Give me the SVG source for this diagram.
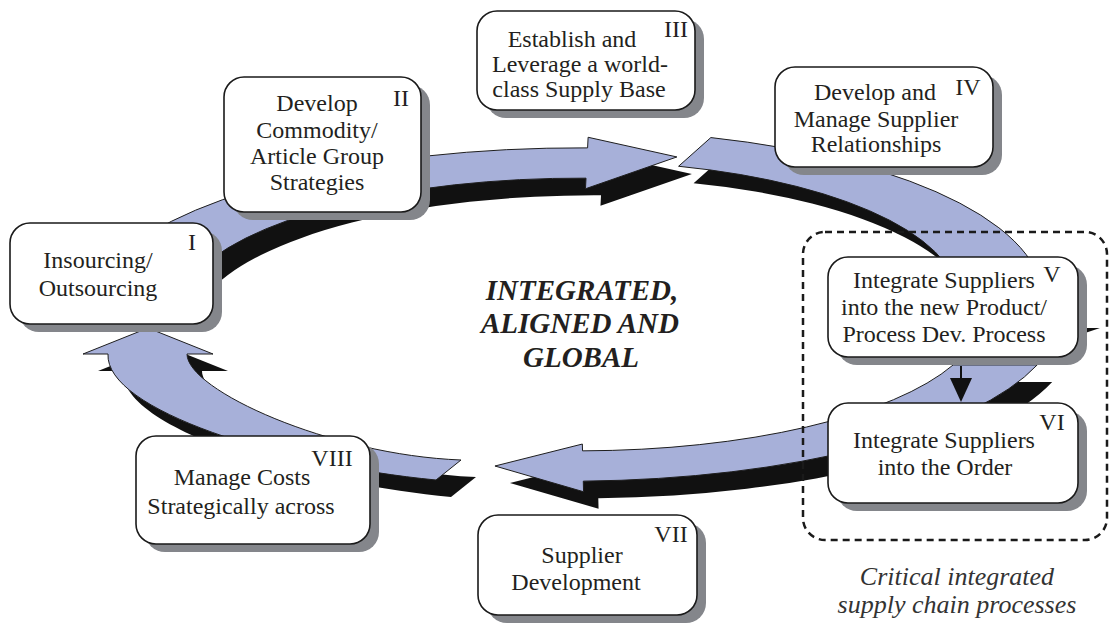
<svg xmlns="http://www.w3.org/2000/svg" width="1112" height="626" viewBox="0 0 1112 626">
  <defs>
    <style>
      .ring{vector-effect:non-scaling-stroke;stroke-linejoin:miter}
      .band{fill:#a7b0d9;stroke:#1e1e1e;stroke-width:1}
      .shade{fill:#111111;stroke:none}
      .box{fill:#ffffff;stroke:#1a1a1a;stroke-width:1.6}
      .boxshadow{fill:#84868b}
      .lbl{font-family:"Liberation Serif","Times New Roman",serif;font-size:24px;fill:#231f20;text-anchor:middle}
      .num{font-family:"Liberation Serif","Times New Roman",serif;font-size:24px;fill:#231f20;text-anchor:middle}
      .center{font-family:"Liberation Serif","Times New Roman",serif;font-size:29px;font-weight:bold;font-style:italic;fill:#231f20;text-anchor:middle}
      .note{font-family:"Liberation Serif","Times New Roman",serif;font-size:26px;font-style:italic;fill:#333333;text-anchor:middle}
    </style>
    <!-- curved arrows drawn on a unit ring of radius 100, stretched into an ellipse by the use transform -->
    <path id="arcA" class="ring" d="M -106.25,-28.47 A 110 110 0 0 1 1.92,-109.98 L 2.04,-116.98 L 21.9,-104 L 1.45,-82.99 L 1.57,-89.99 A 90 90 0 0 0 -86.93,-23.29 Z"/>
    <path id="arcB" class="ring" d="M 31.24,-105.47 A 110 110 0 0 1 109.77,7.1 L 119.9,7.1 L 98.3,27.05 L 80,7.1 L 89.72,7.1 A 90 90 0 0 0 23.6,-86.85 Z"/>
    <path id="arcC" class="ring" d="M 102.5,33.3 A 110 110 0 0 1 0.96,110 L 1.02,117 L -18.8,100 L 0.75,85.5 L 0.79,90 A 90 90 0 0 0 83.7,33.3 Z"/>
    <!-- left arrow, drawn in page coordinates -->
    <path id="arcD" class="ring" d="M 461,460 L 436,480 C 280,465 105,410 108,354 L 83,354 L 148,328 L 213,354 L 187,354 C 187,390 330,455 461,460 Z"/>
  </defs>

  <rect width="1112" height="626" fill="#ffffff"/>

  <!-- cycle arrows: drop shadows first, then the blue bands -->
  <g id="connectors">
    <g id="arrow-shadows">
      <use href="#arcA" class="shade" transform="translate(594,331.5) scale(4.47,1.515)"/>
      <use href="#arcB" class="shade" transform="translate(594,317) scale(4.22,1.54)"/>
      <use href="#arcC" class="shade" transform="translate(594,331.5) scale(4.47,1.515)"/>
      <use href="#arcD" class="shade" transform="translate(15,17)"/>
    </g>
    <g id="arrow-bands">
      <use href="#arcA" class="band" transform="translate(579,314.5) scale(4.47,1.515)"/>
      <use href="#arcB" class="band" transform="translate(579,300) scale(4.22,1.54)"/>
      <use href="#arcC" class="band" transform="translate(579,314.5) scale(4.47,1.515)"/>
      <use href="#arcD" class="band"/>
    </g>
    <!-- link from V to VI -->
    <g id="link-V-VI">
      <line x1="961" y1="366" x2="961" y2="382" stroke="#111" stroke-width="2"/>
      <polygon points="950,378 972,378 961,402" fill="#111"/>
    </g>
  </g>

  <!-- dashed frame around the critical processes -->
  <rect id="critical-frame" x="803" y="232" width="304" height="308" rx="22" fill="none" stroke="#1a1a1a" stroke-width="2.5" stroke-dasharray="7 5"/>

  <g id="node-I">
    <rect class="boxshadow" x="19" y="231" width="203" height="101" rx="20"/>
    <rect class="box" x="10" y="223" width="203" height="101" rx="20"/>
    <text class="num" x="192" y="250">I</text>
    <text class="lbl" x="98" y="268">Insourcing/</text>
    <text class="lbl" x="98" y="296">Outsourcing</text>
  </g>

  <g id="node-II">
    <rect class="boxshadow" x="233" y="85" width="197" height="135" rx="20"/>
    <rect class="box" x="224" y="77" width="197" height="135" rx="20"/>
    <text class="num" x="401" y="106">II</text>
    <text class="lbl" x="317" y="111">Develop</text>
    <text class="lbl" x="317" y="138">Commodity/</text>
    <text class="lbl" x="317" y="164">Article Group</text>
    <text class="lbl" x="317" y="190">Strategies</text>
  </g>

  <g id="node-III">
    <rect class="boxshadow" x="486" y="19" width="218" height="99" rx="20"/>
    <rect class="box" x="477" y="11" width="218" height="99" rx="20"/>
    <text class="num" x="676" y="37">III</text>
    <text class="lbl" x="572" y="47">Establish and</text>
    <text class="lbl" x="580" y="72">Leverage a world-</text>
    <text class="lbl" x="579" y="97">class Supply Base</text>
  </g>

  <g id="node-IV">
    <rect class="boxshadow" x="784" y="75" width="218" height="100" rx="20"/>
    <rect class="box" x="775" y="67" width="218" height="100" rx="20"/>
    <text class="num" x="968" y="95">IV</text>
    <text class="lbl" x="875" y="100">Develop and</text>
    <text class="lbl" x="876" y="127">Manage Supplier</text>
    <text class="lbl" x="876" y="152">Relationships</text>
  </g>

  <g id="node-V">
    <rect class="boxshadow" x="837" y="265" width="250" height="100" rx="20"/>
    <rect class="box" x="828" y="257" width="250" height="100" rx="20"/>
    <text class="num" x="1052" y="282">V</text>
    <text class="lbl" x="944" y="288">Integrate Suppliers</text>
    <text class="lbl" x="944" y="315">into the new Product/</text>
    <text class="lbl" x="944" y="342">Process Dev. Process</text>
  </g>

  <g id="node-VI">
    <rect class="boxshadow" x="837" y="411" width="250" height="100" rx="20"/>
    <rect class="box" x="828" y="403" width="250" height="100" rx="20"/>
    <text class="num" x="1052" y="430">VI</text>
    <text class="lbl" x="944" y="448">Integrate Suppliers</text>
    <text class="lbl" x="945" y="475">into the Order</text>
  </g>

  <g id="node-VII">
    <rect class="boxshadow" x="487" y="523" width="219" height="100" rx="20"/>
    <rect class="box" x="478" y="515" width="219" height="100" rx="20"/>
    <text class="num" x="671" y="542">VII</text>
    <text class="lbl" x="582" y="563">Supplier</text>
    <text class="lbl" x="576" y="590">Development</text>
  </g>

  <g id="node-VIII">
    <rect class="boxshadow" x="145" y="444" width="234" height="108" rx="20"/>
    <rect class="box" x="136" y="436" width="234" height="108" rx="20"/>
    <text class="num" x="332" y="466">VIII</text>
    <text class="lbl" x="242" y="485">Manage Costs</text>
    <text class="lbl" x="241" y="514">Strategically across</text>
  </g>

  <g id="title">
    <text class="center" x="582" y="300">INTEGRATED,</text>
    <text class="center" x="580" y="333">ALIGNED AND</text>
    <text class="center" x="581" y="367">GLOBAL</text>
  </g>

  <g id="caption">
    <text class="note" x="957" y="585">Critical integrated</text>
    <text class="note" x="957" y="613">supply chain processes</text>
  </g>
</svg>
